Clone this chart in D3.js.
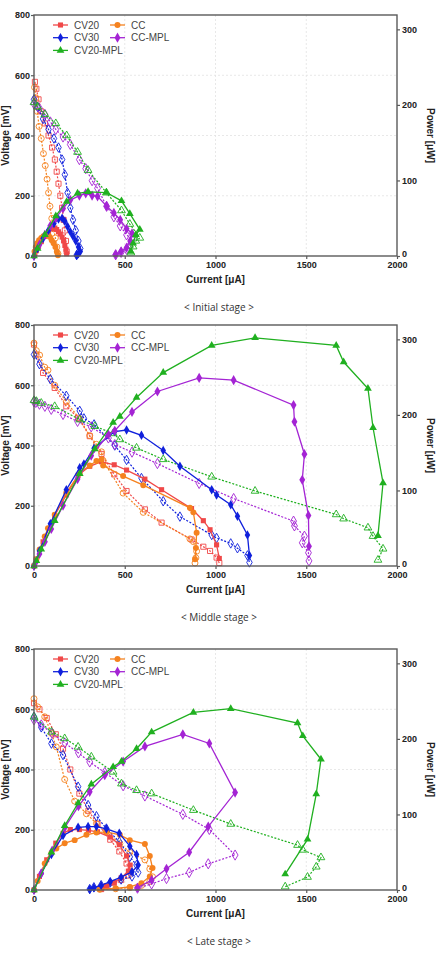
<!DOCTYPE html>
<html>
<head>
<meta charset="utf-8">
<script src="https://cdn.jsdelivr.net/npm/d3@7"></script>
<style>
  body { margin: 0; background: #fff; }
  svg { display: block; }
</style>
</head>
<body>
<svg id="chart" width="440" height="954"></svg>
<script>
// series order: CV20, CC, CV30, CC-MPL, CV20-MPL
const seriesNames = ["CV20", "CC", "CV30", "CC-MPL", "CV20-MPL"];
const stageNames = ["< Initial stage >", "< Middle stage >", "< Late stage >"];
const currentTicks = [0, 500, 1000, 1500, 2000];
const voltageTicks = [0, 200, 400, 600, 800];
const powerTicks = [0, 100, 200, 300];

// ---- initial stage ----
const iniCV20_I = [5, 13, 25, 40, 60, 80, 100, 115, 125, 135, 145, 155, 163, 170, 176, 180];
const iniCV20_V = [578, 555, 520, 480, 440, 400, 360, 320, 280, 240, 200, 160, 120, 85, 50, 15];
const iniCV20_P = [3, 7, 13, 19, 26, 32, 36, 37, 35, 32, 29, 25, 20, 14, 9, 3];
const iniCC_I = [3, 10, 18, 28, 40, 52, 62, 72, 80, 88, 98, 108, 118, 126, 132];
const iniCC_V = [560, 525, 480, 430, 390, 340, 300, 255, 210, 165, 125, 90, 60, 30, 8];
const iniCC_P = [6, 12, 17, 21, 24, 26, 27, 28, 27, 25, 21, 17, 12, 6, 1];
const iniCV30_I = [0, 20, 50, 80, 110, 135, 155, 170, 185, 200, 215, 230, 245, 255, 245, 235];
const iniCV30_V = [520, 495, 455, 420, 390, 360, 320, 270, 210, 160, 120, 85, 50, 25, 12, 3];
const iniCV30_P = [0, 10, 23, 34, 43, 49, 50, 46, 39, 32, 26, 20, 12, 6, 3, 1];
const iniCCMPL_I = [0, 30, 60, 90, 120, 160, 200, 250, 285, 320, 350, 400, 440, 475, 510, 540, 530, 510, 480, 450];
const iniCCMPL_V = [505, 490, 470, 445, 420, 395, 370, 320, 290, 250, 225, 165, 130, 100, 70, 55, 38, 22, 12, 4];
const iniCCMPL_P = [0, 15, 28, 40, 50, 63, 74, 80, 83, 80, 79, 66, 57, 48, 36, 30, 20, 11, 6, 2];
const iniCV20MPL_I = [0, 20, 60, 120, 180, 240, 298, 399, 482, 528, 583, 561, 546, 534];
const iniCV20MPL_V = [510, 495, 470, 440, 400, 345, 285, 210, 151, 106, 60, 50, 31, 11];
const iniCV20MPL_P = [0, 10, 28, 53, 72, 83, 85, 84, 73, 56, 35, 28, 17, 6];

// ---- middle stage ----
const midCV20_I = [0, 13, 50, 114, 178, 243, 307, 372, 442, 510, 611, 703, 868, 933, 970, 1006, 1021];
const midCV20_V = [735, 702, 641, 591, 530, 492, 431, 372, 304, 249, 188, 144, 88, 64, 50, 28, 10];
const midCV20_P = [0, 9, 32, 67, 94, 120, 132, 138, 134, 127, 115, 101, 76, 60, 48, 28, 10];
const midCC_I = [0, 13, 31, 59, 77, 114, 178, 252, 307, 344, 372, 381, 491, 602, 859, 878, 896, 892, 887];
const midCC_V = [740, 715, 700, 660, 650, 600, 545, 488, 433, 404, 379, 350, 242, 178, 90, 81, 49, 27, 10];
const midCC_P = [0, 9, 22, 39, 50, 68, 97, 123, 133, 139, 141, 133, 119, 107, 77, 71, 44, 24, 9];
const midCV30_I = [0, 30, 90, 178, 252, 275, 331, 445, 510, 592, 712, 804, 979, 1006, 1084, 1121, 1176, 1187];
const midCV30_V = [702, 670, 620, 565, 515, 490, 470, 400, 352, 292, 215, 164, 103, 93, 75, 59, 35, 12];
const midCV30_P = [0, 20, 56, 101, 130, 135, 156, 178, 180, 173, 153, 132, 101, 94, 81, 66, 41, 14];
const midCCMPL_I = [0, 10, 30, 60, 95, 160, 240, 315, 410, 445, 540, 680, 910, 1100, 1430, 1435, 1490, 1478, 1512, 1515];
const midCCMPL_V = [545, 543, 537, 530, 520, 503, 480, 462, 425, 403, 378, 340, 274, 224, 149, 133, 99, 77, 44, 17];
const midCCMPL_P = [0, 5, 16, 32, 49, 80, 115, 146, 174, 179, 204, 231, 249, 246, 213, 191, 148, 114, 67, 26];
const midCV20MPL_I = [0, 13, 40, 114, 252, 335, 436, 473, 565, 712, 979, 1218, 1665, 1706, 1840, 1868, 1923, 1895];
const midCV20MPL_V = [550, 547, 541, 530, 486, 464, 440, 420, 392, 354, 296, 249, 171, 157, 127, 99, 57, 20];
const midCV20MPL_P = [0, 7, 22, 60, 122, 155, 190, 198, 223, 256, 292, 302, 292, 270, 235, 183, 110, 40];

// ---- late stage ----
const lateCV20_I = [0, 30, 70, 120, 160, 200, 250, 300, 350, 420, 470, 510, 530, 520, 480, 440, 400, 370];
const lateCV20_V = [620, 600, 571, 517, 469, 400, 320, 263, 220, 167, 128, 88, 62, 48, 33, 23, 12, 3];
const lateCV20_P = [0, 18, 40, 62, 75, 80, 80, 79, 77, 70, 60, 45, 33, 25, 16, 10, 5, 1];
const lateCC_I = [0, 20, 59, 96, 123, 169, 224, 289, 344, 399, 473, 528, 611, 638, 653, 638, 592, 528, 450, 362];
const lateCC_V = [635, 608, 575, 520, 475, 367, 295, 253, 221, 193, 154, 125, 100, 70, 44, 28, 15, 8, 4, 2];
const lateCC_P = [0, 12, 35, 49, 55, 62, 66, 73, 76, 77, 73, 66, 61, 45, 29, 18, 9, 4, 2, 1];
const lateCV30_I = [0, 40, 96, 160, 243, 298, 344, 399, 470, 528, 565, 574, 540, 480, 420, 370, 330, 307];
const lateCV30_V = [575, 540, 486, 448, 343, 282, 245, 204, 160, 110, 83, 58, 45, 35, 25, 16, 9, 3];
const lateCV30_P = [0, 22, 47, 72, 83, 84, 84, 81, 75, 58, 47, 33, 24, 17, 11, 6, 3, 1];
const lateCCMPL_I = [0, 40, 100, 170, 245, 307, 390, 491, 611, 820, 966, 1108, 960, 855, 730, 648, 570];
const lateCCMPL_V = [565, 548, 520, 488, 455, 425, 390, 346, 312, 251, 201, 116, 87, 58, 38, 20, 6];
const lateCCMPL_P = [0, 22, 52, 83, 111, 130, 152, 170, 190, 206, 194, 129, 84, 50, 28, 13, 3];
const lateCV20MPL_I = [0, 96, 169, 243, 316, 436, 482, 565, 648, 878, 1084, 1452, 1481, 1581, 1555, 1507, 1384];
const lateCV20MPL_V = [575, 525, 503, 475, 442, 392, 353, 331, 320, 265, 219, 149, 133, 108, 77, 43, 11];
const lateCV20MPL_P = [0, 50, 85, 115, 140, 163, 170, 187, 209, 235, 240, 221, 204, 173, 127, 67, 21];

const colors = ["#f04848", "#f5821f", "#1020dc", "#a424d4", "#20b020"];
const shapes = [d3.symbolSquare, d3.symbolCircle, d3.symbolDiamond, d3.symbolDiamond, d3.symbolTriangle];
const symSize = [26, 28, 26, 30, 26];

const stages = [
  [[iniCV20_I, iniCV20_V, iniCV20_P], [iniCC_I, iniCC_V, iniCC_P], [iniCV30_I, iniCV30_V, iniCV30_P],
   [iniCCMPL_I, iniCCMPL_V, iniCCMPL_P], [iniCV20MPL_I, iniCV20MPL_V, iniCV20MPL_P]],
  [[midCV20_I, midCV20_V, midCV20_P], [midCC_I, midCC_V, midCC_P], [midCV30_I, midCV30_V, midCV30_P],
   [midCCMPL_I, midCCMPL_V, midCCMPL_P], [midCV20MPL_I, midCV20MPL_V, midCV20MPL_P]],
  [[lateCV20_I, lateCV20_V, lateCV20_P], [lateCC_I, lateCC_V, lateCC_P], [lateCV30_I, lateCV30_V, lateCV30_P],
   [lateCCMPL_I, lateCCMPL_V, lateCCMPL_P], [lateCV20MPL_I, lateCV20MPL_V, lateCV20MPL_P]]
];

const panelTops = [15, 325, 649];
const plotH = 241;
const left = 34, right = 397;
const font = "'Liberation Sans', Arial, sans-serif";

const svg = d3.select("#chart");
const x = d3.scaleLinear().domain([0, 2000]).range([left, right]);

function drawPanel(k) {
  const top = panelTops[k];
  const bottom = top + plotH;
  const y = d3.scaleLinear().domain([0, 800]).range([bottom, top]);
  const yp = d3.scaleLinear().domain([0, 319]).range([bottom, top]);
  const g = svg.append("g");

  // faint grid
  g.selectAll(".gx").data(currentTicks.slice(1, -1)).join("line")
    .attr("x1", d => x(d)).attr("x2", d => x(d)).attr("y1", top).attr("y2", bottom)
    .attr("stroke", "#e2e2e2").attr("stroke-width", 0.8).attr("stroke-dasharray", "2,2");
  g.selectAll(".gy").data(voltageTicks.slice(1, -1)).join("line")
    .attr("x1", left).attr("x2", right).attr("y1", d => y(d)).attr("y2", d => y(d))
    .attr("stroke", "#e2e2e2").attr("stroke-width", 0.8).attr("stroke-dasharray", "2,2");

  // data: polarization (hollow, dotted) then power (filled, solid)
  const pts = stages[k];
  pts.forEach((s, i) => {
    const rows = s[0].map((c, j) => ({ c: c, v: s[1][j], p: s[2][j] }));
    g.append("path").datum(rows)
      .attr("d", d3.line().x(d => x(d.c)).y(d => y(d.v)))
      .attr("fill", "none").attr("stroke", colors[i]).attr("stroke-width", 1.2)
      .attr("stroke-dasharray", "2,1.6");
    g.selectAll(null).data(rows).join("path")
      .attr("transform", d => `translate(${x(d.c)},${y(d.v)})`)
      .attr("d", d3.symbol().type(shapes[i]).size(symSize[i]))
      .attr("fill", "none").attr("stroke", colors[i]).attr("stroke-width", 0.9);
  });
  pts.forEach((s, i) => {
    const rows = s[0].map((c, j) => ({ c: c, p: s[2][j] }));
    g.append("path").datum(rows)
      .attr("d", d3.line().x(d => x(d.c)).y(d => yp(d.p)))
      .attr("fill", "none").attr("stroke", colors[i]).attr("stroke-width", 1.3);
    g.selectAll(null).data(rows).join("path")
      .attr("transform", d => `translate(${x(d.c)},${yp(d.p)})`)
      .attr("d", d3.symbol().type(shapes[i]).size(symSize[i]))
      .attr("fill", colors[i]);
  });

  // frame
  g.append("rect").attr("x", left).attr("y", top).attr("width", right - left).attr("height", plotH)
    .attr("fill", "none").attr("stroke", "#5a5a5a").attr("stroke-width", 1.4);

  // axes
  const ax = (sel) => {
    sel.select(".domain").remove();
    sel.selectAll(".tick line").attr("stroke", "#5a5a5a").attr("stroke-width", 1.2);
    sel.selectAll(".tick text").attr("font-family", font).attr("font-size", 9)
      .attr("font-weight", "bold").attr("fill", "#222");
  };
  g.append("g").attr("transform", `translate(0,${bottom})`)
    .call(d3.axisBottom(x).tickValues(currentTicks).tickFormat(d3.format("d")).tickSize(3).tickPadding(3))
    .call(ax);
  g.append("g").attr("transform", `translate(${left},0)`)
    .call(d3.axisLeft(y).tickValues(voltageTicks).tickFormat(d3.format("d")).tickSize(3).tickPadding(1))
    .call(ax);
  g.append("g").attr("transform", `translate(${right},0)`)
    .call(d3.axisRight(yp).tickValues(powerTicks).tickFormat(d3.format("d")).tickSize(3).tickPadding(2))
    .call(ax);
  // right-axis "0" sits just above the bottom "2000"
  g.selectAll("g.tick").filter(function (d) { return d === 0 && this.parentNode && this.parentNode.getAttribute("transform") === `translate(${right},0)`; })
    .select("text").attr("dy", "0.1em");

  // titles
  g.append("text").attr("x", (left + right) / 2).attr("y", bottom + 27)
    .attr("text-anchor", "middle").attr("font-family", font).attr("font-size", 10)
    .attr("font-weight", "bold").attr("fill", "#222").text("Current [\u03bcA]");
  g.append("text").attr("transform", `translate(9,${(top + bottom) / 2}) rotate(-90)`)
    .attr("text-anchor", "middle").attr("font-family", font).attr("font-size", 10)
    .attr("font-weight", "bold").attr("fill", "#222").text("Voltage [mV]");
  g.append("text").attr("transform", `translate(427,${(top + bottom) / 2}) rotate(90)`)
    .attr("text-anchor", "middle").attr("font-family", font).attr("font-size", 10)
    .attr("font-weight", "bold").attr("fill", "#222").text("Power [\u03bcW]");
  g.append("text").attr("x", 219).attr("y", bottom + 55)
    .attr("text-anchor", "middle").attr("font-family", "'Open Sans', sans-serif").attr("font-size", 10)
    .attr("fill", "#333").text(stageNames[k]);

  // legend
  const legPos = [[53, 0], [110, 0], [53, 1], [110, 1], [53, 2]];
  seriesNames.forEach((name, i) => {
    const lx = legPos[i][0], ly = top + 10 + legPos[i][1] * 12.7;
    g.append("line").attr("x1", lx).attr("x2", lx + 15).attr("y1", ly).attr("y2", ly)
      .attr("stroke", colors[i]).attr("stroke-width", 1.3);
    g.append("path").attr("transform", `translate(${lx + 7.5},${ly})`)
      .attr("d", d3.symbol().type(shapes[i]).size(symSize[i])).attr("fill", colors[i]);
    g.append("text").attr("x", lx + 21).attr("y", ly + 3.5)
      .attr("font-family", font).attr("font-size", 10).attr("fill", "#444").text(name);
  });
}

[0, 1, 2].forEach(drawPanel);
</script>
</body>
</html>
